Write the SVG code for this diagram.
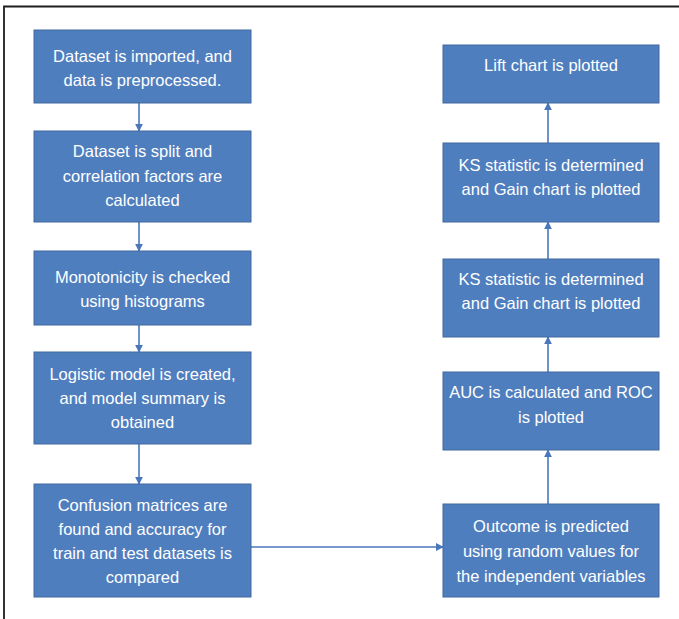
<svg xmlns="http://www.w3.org/2000/svg" width="679" height="619" viewBox="0 0 679 619">
<defs>
<style>
.box{fill:#4f7ebe;stroke:#41699f;stroke-width:1}
.t{font-family:"Liberation Sans",Arial,sans-serif;font-size:16.5px;fill:#ffffff;text-anchor:middle}
.c{stroke:#4a77bc;stroke-width:1.6;fill:none}
</style>
<marker id="ah" viewBox="0 0 10 10" refX="9" refY="5" markerWidth="8" markerHeight="8" markerUnits="userSpaceOnUse" orient="auto">
<path d="M0,0 L10,5 L0,10 Z" fill="#4a77bc"/>
</marker>
</defs>
<rect x="0" y="0" width="679" height="619" fill="#ffffff"/>
<path d="M4,619 V6.5 H679" fill="none" stroke="#1e1e1e" stroke-width="1.8"/>

<g id="connectors">
<line class="c" x1="139" y1="103" x2="139" y2="131" marker-end="url(#ah)"/>
<line class="c" x1="139" y1="222" x2="139" y2="251" marker-end="url(#ah)"/>
<line class="c" x1="139" y1="325" x2="139" y2="352" marker-end="url(#ah)"/>
<line class="c" x1="139" y1="444" x2="139" y2="484" marker-end="url(#ah)"/>
<line class="c" x1="251" y1="547" x2="443" y2="547" marker-end="url(#ah)"/>
<line class="c" x1="548" y1="504" x2="548" y2="450" marker-end="url(#ah)"/>
<line class="c" x1="548" y1="372" x2="548" y2="337" marker-end="url(#ah)"/>
<line class="c" x1="548" y1="259" x2="548" y2="222" marker-end="url(#ah)"/>
<line class="c" x1="548" y1="143" x2="548" y2="103" marker-end="url(#ah)"/>
</g>

<g id="n1">
<rect class="box" x="34" y="30" width="217" height="73"/>
<text class="t" x="142.5" y="62">Dataset is imported, and</text>
<text class="t" x="142.5" y="86">data is preprocessed.</text>
</g>
<g id="n2">
<rect class="box" x="34" y="131" width="217" height="91"/>
<text class="t" x="142.5" y="157">Dataset is split and</text>
<text class="t" x="142.5" y="182">correlation factors are</text>
<text class="t" x="142.5" y="206">calculated</text>
</g>
<g id="n3">
<rect class="box" x="34" y="251" width="217" height="74"/>
<text class="t" x="142.5" y="283">Monotonicity is checked</text>
<text class="t" x="142.5" y="307">using histograms</text>
</g>
<g id="n4">
<rect class="box" x="34" y="352" width="217" height="92"/>
<text class="t" x="142.5" y="380">Logistic model is created,</text>
<text class="t" x="142.5" y="404">and model summary is</text>
<text class="t" x="142.5" y="428">obtained</text>
</g>
<g id="n5">
<rect class="box" x="34" y="484" width="217" height="113"/>
<text class="t" x="142.5" y="511">Confusion matrices are</text>
<text class="t" x="142.5" y="535">found and accuracy for</text>
<text class="t" x="142.5" y="559">train and test datasets is</text>
<text class="t" x="142.5" y="583">compared</text>
</g>
<g id="n6">
<rect class="box" x="443" y="504" width="216" height="93"/>
<text class="t" x="551" y="532">Outcome is predicted</text>
<text class="t" x="551" y="557">using random values for</text>
<text class="t" x="551" y="582">the independent variables</text>
</g>
<g id="n7">
<rect class="box" x="443" y="372" width="216" height="78"/>
<text class="t" x="551" y="398">AUC is calculated and ROC</text>
<text class="t" x="551" y="423">is plotted</text>
</g>
<g id="n8">
<rect class="box" x="443" y="259" width="216" height="78"/>
<text class="t" x="551" y="285">KS statistic is determined</text>
<text class="t" x="551" y="309">and Gain chart is plotted</text>
</g>
<g id="n9">
<rect class="box" x="443" y="143" width="216" height="79"/>
<text class="t" x="551" y="171">KS statistic is determined</text>
<text class="t" x="551" y="195">and Gain chart is plotted</text>
</g>
<g id="n10">
<rect class="box" x="443" y="45" width="216" height="58"/>
<text class="t" x="551" y="71">Lift chart is plotted</text>
</g>
</svg>
